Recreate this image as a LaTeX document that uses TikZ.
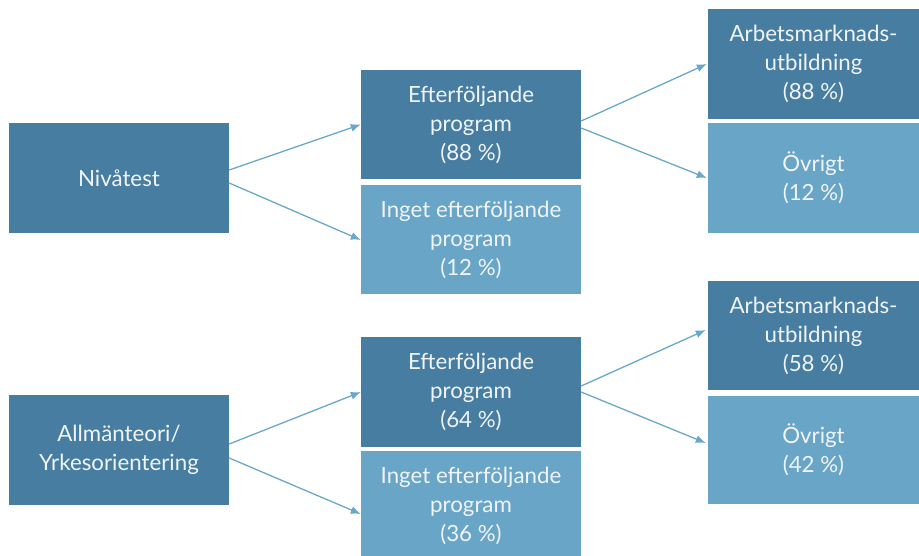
\documentclass[tikz,border=0pt]{standalone}
\usepackage{fontspec}
\setmainfont{Lato}
\usetikzlibrary{arrows.meta,calc}
\definecolor{dark}{RGB}{70,125,160}
\definecolor{light}{RGB}{104,165,198}
\definecolor{arr}{RGB}{106,168,200}
\definecolor{txt}{RGB}{240,244,247}
\tikzset{
  box/.style={rectangle, inner sep=0pt, text=txt, align=center,
    font=\fontsize{22.3}{29}\selectfont},
  darkbox/.style={box, fill=dark},
  lightbox/.style={box, fill=light},
  conn/.style={draw=arr, line width=1.3pt, -{Latex[length=10pt,width=8pt]}}
}
\begin{document}
\begin{tikzpicture}[x=1pt,y=-1pt]
\useasboundingbox (0,0) rectangle (919,555);
\clip (0,0) rectangle (919,555);
\node[darkbox, minimum width=220pt, minimum height=110pt] (niva) at (119,178) {Nivåtest};
\node[darkbox, minimum width=220pt, minimum height=109pt] (eft1) at (471,124.5) {Efterföljande\\program\\(88 \%)};
\node[lightbox, minimum width=220pt, minimum height=109pt] (ing1) at (471,239.5) {Inget efterföljande\\program\\(12 \%)};
\node[darkbox, minimum width=211pt, minimum height=110pt] (arb1) at (813.5,64) {Arbetsmarknads-\\utbildning\\(88 \%)};
\node[lightbox, minimum width=211pt, minimum height=110pt] (ovr1) at (813.5,178) {Övrigt\\(12 \%)};

\node[darkbox, minimum width=220pt, minimum height=110pt] (allm) at (119,450) {Allmänteori/\\Yrkesorientering};
\node[darkbox, minimum width=220pt, minimum height=110pt] (eft2) at (471,392) {Efterföljande\\program\\(64 \%)};
\node[lightbox, minimum width=220pt, minimum height=110pt] (ing2) at (471,506) {Inget efterföljande\\program\\(36 \%)};
\node[darkbox, minimum width=211pt, minimum height=109pt] (arb2) at (813.5,335.5) {Arbetsmarknads-\\utbildning\\(58 \%)};
\node[lightbox, minimum width=211pt, minimum height=108pt] (ovr2) at (813.5,450) {Övrigt\\(42 \%)};

\draw[conn] ([yshift=8pt]niva.east) -- (eft1.west);
\draw[conn] ([yshift=-5pt]niva.east) -- ([yshift=-0.5pt]ing1.west);
\draw[conn] ([yshift=3.5pt]eft1.east) -- ([xshift=-1pt]arb1.west);
\draw[conn] ([yshift=-3.5pt]eft1.east) -- ([xshift=-1pt]ovr1.west);

\draw[conn] ([yshift=6pt]allm.east) -- (eft2.west);
\draw[conn] ([yshift=-8pt]allm.east) -- ([yshift=-8pt]ing2.west);
\draw[conn] ([yshift=6pt]eft2.east) -- ([xshift=-2pt,yshift=5.5pt]arb2.west);
\draw[conn] (eft2.east) -- ([xshift=-2pt,yshift=7pt]ovr2.west);
\end{tikzpicture}
\end{document}
